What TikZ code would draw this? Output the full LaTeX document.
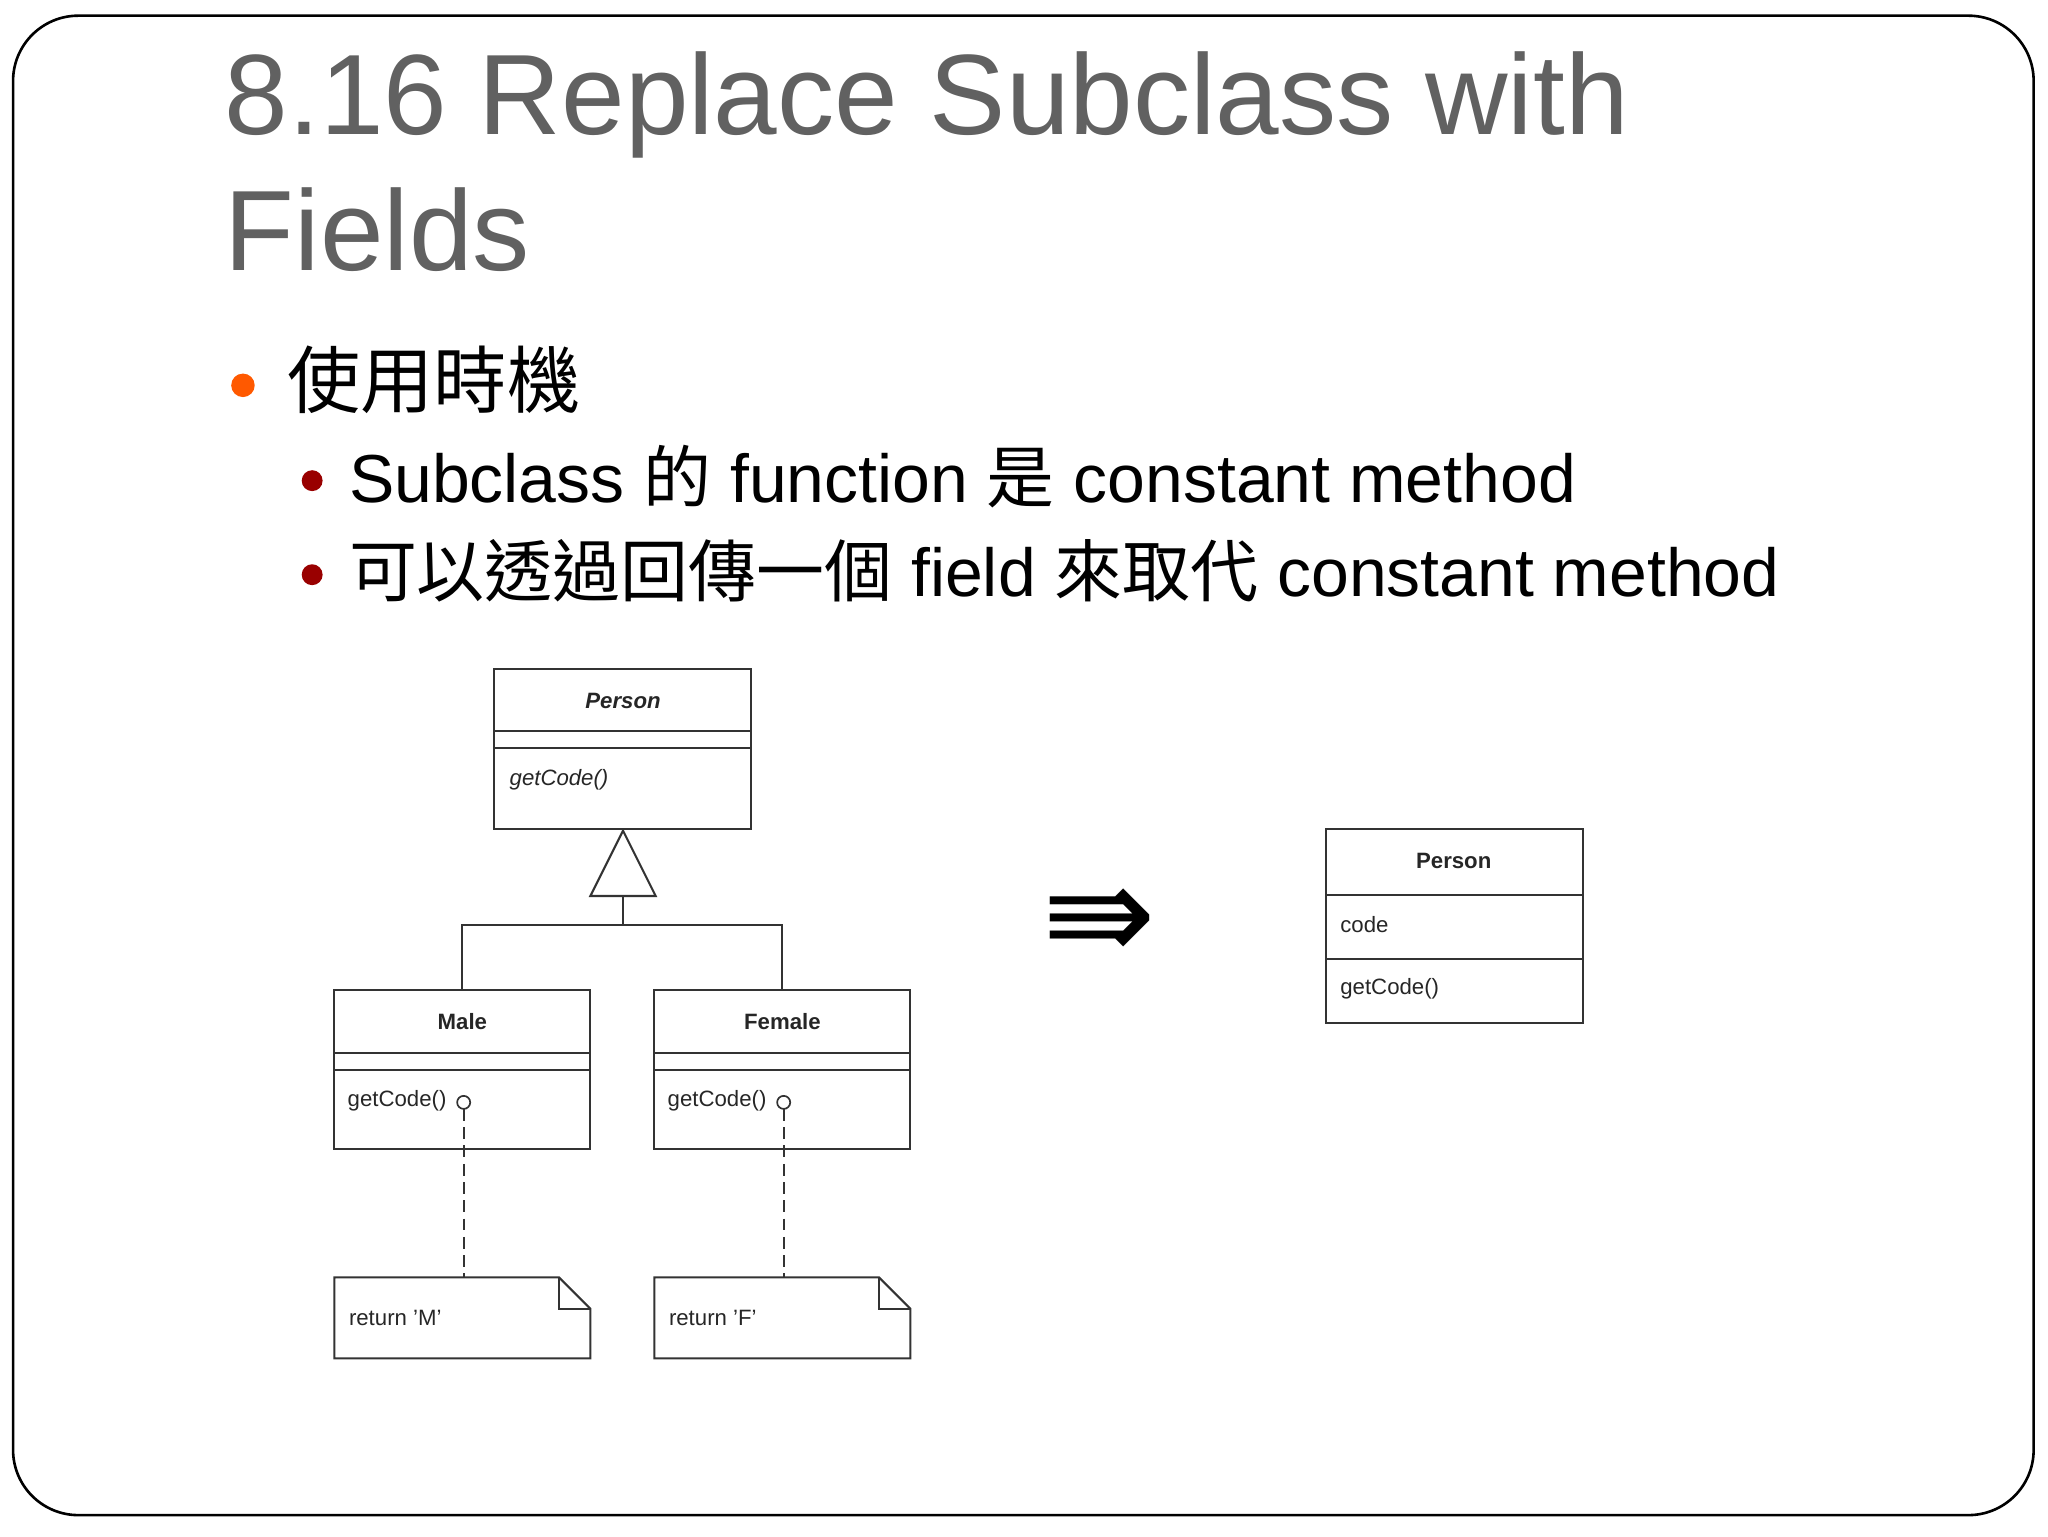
\documentclass[tikz,border=0pt]{standalone}
\usepackage{fontspec}
\setmainfont{Liberation Sans}
\newfontfamily\cjk{Noto Sans CJK TC}
\newfontfamily\dejavu{DejaVu Sans}
\begin{document}
\begin{tikzpicture}[x=1pt,y=-1pt,
  uml/.style={draw=black!80,line width=1.6pt},
  umltxt/.style={inner sep=0pt,font=\fontsize{17}{20}\selectfont,text=black!85},
  line/.style={draw=black!80,line width=1.6pt}]
\useasboundingbox (0,0) rectangle (1568,1176);
\draw[line width=2pt,rounded corners=50pt] (10,12) rectangle (1557,1160);
% title
\node[anchor=base west,inner sep=0pt,text=black!62,font=\fontsize{87.5}{100}\selectfont] (t1) at (172,103) {8.16 Replace Subclass with};
\node[anchor=base west,inner sep=0pt,text=black!62,font=\fontsize{87.5}{100}\selectfont] (t2) at (172,207) {Fields};
% bullets
\fill[orange!70!red] (186,295) circle (9);
\node[anchor=base west,inner sep=0pt,font=\cjk\fontsize{56}{60}\selectfont] (b1) at (220,312) {使用時機};
\fill[red!60!black] (239,368) circle (8);
\node[anchor=base west,inner sep=0pt,font=\fontsize{52}{60}\selectfont] (b2) at (267,385) {Subclass {\cjk 的} function {\cjk 是} constant method};
\fill[red!60!black] (239,440) circle (8);
\node[anchor=base west,inner sep=0pt,font=\fontsize{52}{60}\selectfont] (b3) at (267,457) {{\cjk 可以透過回傳一個} field {\cjk 來取代} constant method};
% left Person
\draw[uml] (378,512) rectangle (575,635);
\draw[uml] (378,560) -- (575,560) (378,573) -- (575,573);
\node[umltxt,font=\bfseries\itshape\fontsize{17}{20}\selectfont] (p1) at (477,537) {Person};
\node[umltxt,anchor=west,font=\itshape\fontsize{17}{20}\selectfont] (p1m) at (390,597) {getCode()};
% triangle
\coordinate (apex) at (477,636);
\draw[uml,line join=miter] (apex) -- (452,686) -- (502,686) -- cycle;
\coordinate (tb) at (477,686);
\coordinate (junc) at (477,708);
% Male
\draw[uml] (256,758) rectangle (452,880);
\draw[uml] (256,806) -- (452,806) (256,819) -- (452,819);
\node[umltxt,font=\bfseries\fontsize{17}{20}\selectfont] (male) at (354,782) {Male};
\node[umltxt,anchor=west] (mm) at (266,843) {getCode()};
\draw[uml,line width=1.3pt] (355,844) circle (5);
% Female
\draw[uml] (501,758) rectangle (697,880);
\draw[uml] (501,806) -- (697,806) (501,819) -- (697,819);
\node[umltxt,font=\bfseries\fontsize{17}{20}\selectfont] (female) at (599,782) {Female};
\node[umltxt,anchor=west] (fm) at (511,843) {getCode()};
\draw[uml,line width=1.3pt] (600,844) circle (5);
% generalization lines
\draw[line] (tb) -- (junc);
\draw[line] (354,758) -- (354,708) -- (599,708) -- (599,758);
% notes
\draw[uml,line join=miter] (256,978) -- (428,978) -- (452,1002) -- (452,1040) -- (256,1040) -- cycle;
\draw[uml] (428,978) -- (428,1002) -- (452,1002);
\node[umltxt,anchor=west] (nm) at (267,1009) {return 'M'};
\draw[uml,line join=miter] (501,978) -- (673,978) -- (697,1002) -- (697,1040) -- (501,1040) -- cycle;
\draw[uml] (673,978) -- (673,1002) -- (697,1002);
\node[umltxt,anchor=west] (nf) at (512,1009) {return 'F'};
\draw[uml,dashed,dash pattern=on 9pt off 5pt] (355,849) -- (355,978);
\draw[uml,dashed,dash pattern=on 9pt off 5pt] (600,849) -- (600,978);
% arrow
\node[inner sep=0pt,font=\dejavu\fontsize{104}{110}\selectfont] (arr) at (842,708) {⇛};
% right Person
\draw[uml] (1015,635) rectangle (1212,783);
\draw[uml] (1015,685) -- (1212,685) (1015,734) -- (1212,734);
\node[umltxt,font=\bfseries\fontsize{17}{20}\selectfont] (p2) at (1113,659) {Person};
\node[umltxt,anchor=west] (p2c) at (1026,708) {code};
\node[umltxt,anchor=west] (p2m) at (1026,757) {getCode()};
\end{tikzpicture}
\end{document}
